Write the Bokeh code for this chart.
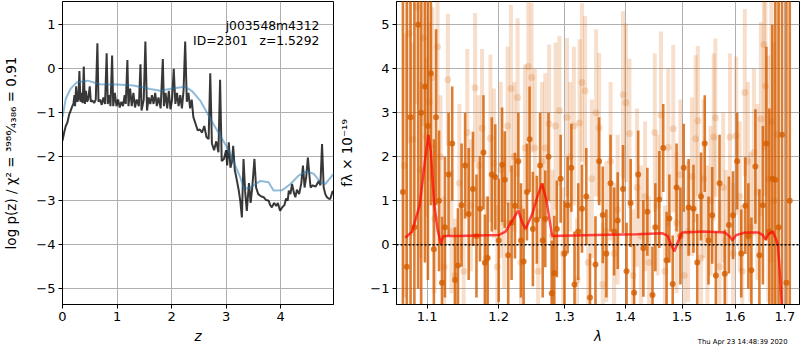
import numpy as np
from bokeh.plotting import figure
from bokeh.layouts import row
from bokeh.models import (Range1d, FixedTicker, CustomJSTickFormatter, Span, Title,
                          ColumnDataSource)
from bokeh.core.properties import value
from bokeh.embed import file_html
from bokeh.resources import INLINE

# ---------------- data: left panel (redshift PDF) ----------------
z_pz = [0.00, 0.03, 0.06, 0.09, 0.12, 0.15, 0.18, 0.20, 0.22, 0.23, 0.25, 0.27, 0.29, 0.31, 0.33,
        0.35, 0.37, 0.39, 0.41, 0.43, 0.45, 0.47, 0.50, 0.52, 0.55, 0.58, 0.61, 0.64, 0.66, 0.69,
        0.72, 0.75, 0.78, 0.81, 0.83, 0.86, 0.88, 0.91, 0.93, 0.96, 0.99, 1.02, 1.05, 1.08, 1.11,
        1.14, 1.16, 1.19, 1.21, 1.24, 1.27, 1.30, 1.33, 1.36, 1.40, 1.43, 1.45, 1.49, 1.52, 1.55,
        1.58, 1.61, 1.64, 1.67, 1.70, 1.73, 1.76, 1.80, 1.84, 1.86, 1.89, 1.92, 1.95, 1.98, 2.01,
        2.04, 2.07, 2.10, 2.13, 2.16, 2.19, 2.22, 2.25, 2.28, 2.31, 2.34, 2.37, 2.40, 2.44, 2.48,
        2.52, 2.56, 2.60, 2.64, 2.68, 2.71, 2.74, 2.78, 2.82, 2.86, 2.89, 2.92, 2.96, 3.00, 3.02,
        3.05, 3.08, 3.11, 3.13, 3.16, 3.20, 3.23, 3.26, 3.29, 3.32, 3.35, 3.38, 3.42, 3.45, 3.48,
        3.52, 3.55, 3.59, 3.64, 3.69, 3.73, 3.78, 3.81, 3.84, 3.88, 3.92, 3.95, 3.99, 4.03, 4.07,
        4.10, 4.13, 4.15, 4.18, 4.21, 4.24, 4.27, 4.30, 4.34, 4.38, 4.41, 4.44, 4.47, 4.50, 4.53,
        4.55, 4.59, 4.64, 4.70, 4.73, 4.76, 4.79, 4.82, 4.85, 4.88, 4.91, 4.95, 4.99]
logp = [-1.64, -1.45, -1.30, -1.22, -1.05, -0.95, -0.85, -0.80, -0.60, -0.85, -0.40, -0.75, -0.70, -0.05, -0.75,
        -0.55, -0.78, 0.05, -0.80, -0.50, -0.75, -0.70, -0.40, -0.75, -0.72, -0.78, -0.70, 0.58, -0.75, -0.70,
        -0.82, -0.65, -0.80, 0.35, -0.80, -0.60, -0.85, 0.30, -0.85, -0.55, -0.85, -0.70, -0.88, -0.75, -0.85,
        -0.60, -0.80, 0.20, -0.85, -0.45, -0.85, -0.55, -0.88, -0.70, -0.85, 0.10, -0.95, -0.70, 0.62, -0.95,
        -0.65, -0.80, -0.60, -0.80, -0.55, -0.85, -0.65, -0.90, 0.22, -0.85, -0.55, -0.90, -0.50, -0.92, -0.70,
        0.00, -0.80, -0.55, -0.85, -0.60, -0.90, -0.50, 0.62, -0.75, -0.55, -0.90, -0.70, -1.10, -1.25, -1.40,
        -1.38, -1.45, -1.30, -1.55, -1.60, -0.10, -1.70, -1.85, -1.65, -1.90, -0.25, -2.10, -2.05, -1.85, -2.20,
        -1.67, -2.25, -2.10, -1.75, -2.30, -2.55, -2.75, -3.00, -3.38, -2.05, -2.80, -3.23, -2.60, -3.05, -2.70,
        -2.05, -2.70, -2.85, -2.90, -2.92, -2.98, -3.00, -3.10, -3.15, -3.05, -3.12, -3.05, -3.23, -3.15, -3.10,
        -2.95, -3.00, -2.77, -2.85, -2.62, -2.80, -2.92, -2.75, -2.85, -2.60, -2.20, -2.70, -2.45, -2.02, -2.45,
        -2.70, -2.65, -2.68, -2.55, -2.65, -1.71, -2.70, -2.85, -2.92, -2.95, -2.96, -2.80, -2.77]

z_smooth = [0.00, 0.06, 0.15, 0.26, 0.46, 0.69, 1.00, 1.30, 1.61, 1.79, 2.04, 2.25, 2.37, 2.53, 2.77,
            3.02, 3.08, 3.26, 3.33, 3.45, 3.63, 3.78, 3.87, 4.03, 4.18, 4.33, 4.48, 4.61, 4.73, 4.82, 4.99]
logp_smooth = [-1.10, -0.68, -0.45, -0.31, -0.27, -0.35, -0.36, -0.38, -0.46, -0.50, -0.44, -0.41, -0.50,
               -0.73, -1.26, -1.79, -1.94, -2.47, -2.73, -2.70, -2.55, -2.58, -2.77, -2.76, -2.62, -2.43,
               -2.33, -2.39, -2.58, -2.62, -2.36]

obj_name = "j003548m4312"
obj_info = "ID=2301\u00a0\u00a0\u00a0z=1.5292"
timestamp = "Thu Apr 23 14:48:39 2020"

# ---------------- data: right panel (1D spectrum) ----------------
lam_d = [1.068, 1.073, 1.078, 1.083, 1.088, 1.092, 1.097, 1.101, 1.105, 1.109, 1.112, 1.116, 1.120, 1.124,
         1.129, 1.134, 1.138, 1.142, 1.147, 1.152, 1.157, 1.163, 1.168, 1.173, 1.178, 1.180, 1.184, 1.190,
         1.195, 1.200, 1.205, 1.209, 1.214, 1.219, 1.224, 1.229, 1.233, 1.237, 1.242, 1.246, 1.251, 1.257,
         1.262, 1.266, 1.270, 1.275, 1.280, 1.284, 1.288, 1.294, 1.300, 1.305, 1.311, 1.316, 1.322, 1.328,
         1.335, 1.341, 1.350, 1.356, 1.362, 1.368, 1.375, 1.381, 1.387, 1.396, 1.402, 1.409, 1.415, 1.422,
         1.431, 1.438, 1.447, 1.452, 1.459, 1.466, 1.472, 1.477, 1.483, 1.490, 1.497, 1.503, 1.512, 1.521,
         1.528, 1.535, 1.542, 1.549, 1.556, 1.563, 1.570, 1.580, 1.588, 1.596, 1.604, 1.612, 1.620, 1.626,
         1.632, 1.640, 1.648, 1.655, 1.662, 1.668, 1.674, 1.680, 1.687, 1.694, 1.703, 1.710]
flux_d = [1.2, -0.5, 2.9, 0.4, 5.0, 3.0, 3.6, 2.7, 3.9, -0.1, 2.9, 1.0, -0.86, 0.4,
          1.6, 2.3, -0.8, -0.47, 0.9, 1.8, 0.7, 1.27, 0.2, 0.82, 2.1, -0.41, -0.3, 1.6,
          1.54, 0.1, 1.82, 1.48, -0.24, 0.5, 0.89, 1.9, 0.1, -0.38, 1.2, 2.4, 0.36, 0.57,
          1.8, 0.1, 0.59, 2.0, -1.1, -0.64, 0.36, 1.5, -0.2, 0.9, 1.75, -0.9, 0.3, 0.82,
          1.1, -1.2, -0.45, 1.9, 0.68, -0.2, 1.4, 0.3, 0.55, 1.27, -0.6, 0.95, -1.09, 1.6,
          -0.08, 0.75, -1.14, 0.4, 1.03, 2.2, -0.35, 0.6, -0.89, 1.3, 0.2, 1.75, 0.85, 0.82,
          -0.4, 1.1, 2.3, 0.1, 0.67, -0.7, 1.4, -0.66, 0.45, 0.67, 1.9, -0.2, 0.89, 0.2,
          -0.58, 1.78, -0.24, 0.9, 2.3, 0.3, 1.5, 1.48, 0.4, 2.5, -0.86, 1.0]
err_d = [8.0, 8.0, 7.0, 6.0, 6.0, 5.0, 4.0, 3.5, 3.0, 2.5, 2.0, 1.6, 1.5, 1.6,
         1.4, 1.3, 1.2, 1.3, 1.4, 1.2, 1.5, 1.3, 1.4, 1.2, 1.3, 1.1, 1.4, 1.3,
         1.2, 1.4, 1.3, 1.1, 1.2, 1.3, 1.2, 1.1, 1.3, 1.2, 1.1, 1.2, 1.3, 1.0,
         1.2, 1.3, 1.1, 1.0, 1.2, 1.3, 1.1, 1.0, 1.2, 1.1, 1.0, 1.2, 1.1, 1.0,
         1.1, 1.0, 1.1, 1.0, 1.1, 1.0, 1.1, 1.0, 1.1, 1.0, 1.1, 1.0, 1.1, 1.0,
         1.1, 1.0, 1.1, 1.0, 1.1, 1.0, 1.1, 1.0, 1.1, 1.0, 1.1, 1.0, 1.1, 1.0,
         1.1, 1.0, 1.1, 1.0, 1.1, 1.0, 1.1, 1.0, 1.1, 1.0, 1.1, 1.0, 1.1, 1.2,
         1.2, 1.3, 1.5, 1.8, 2.2, 2.8, 3.5, 4.5, 6.0, 7.0, 8.0, 9.0]

lam_l = [1.070, 1.076, 1.081, 1.086, 1.091, 1.095, 1.099, 1.103, 1.107, 1.110, 1.114, 1.118, 1.123, 1.128,
         1.133, 1.138, 1.144, 1.150, 1.155, 1.160, 1.166, 1.171, 1.176, 1.182, 1.188, 1.193, 1.198, 1.203,
         1.208, 1.213, 1.218, 1.223, 1.228, 1.233, 1.239, 1.244, 1.249, 1.254, 1.259, 1.265, 1.270, 1.276,
         1.281, 1.286, 1.292, 1.298, 1.304, 1.309, 1.315, 1.320, 1.324, 1.328, 1.333, 1.338, 1.344, 1.351,
         1.356, 1.362, 1.368, 1.375, 1.381, 1.387, 1.396, 1.401, 1.407, 1.413, 1.420, 1.427, 1.434, 1.441,
         1.451, 1.456, 1.462, 1.469, 1.475, 1.484, 1.490, 1.497, 1.504, 1.511, 1.518, 1.525, 1.529, 1.535,
         1.540, 1.547, 1.553, 1.559, 1.562, 1.570, 1.577, 1.582, 1.590, 1.596, 1.602, 1.609, 1.614, 1.619,
         1.625, 1.630, 1.637, 1.644, 1.651, 1.657, 1.660, 1.666, 1.672, 1.678, 1.684]
flux_l = [1.8, 4.8, 2.4, 5.4, 1.7, 4.7, 2.45, 3.25, 3.8, 0.6, 4.5, 2.0, -0.5, 3.75,
          0.3, -0.7, 1.4, -0.6, 2.55, 0.9, 3.57, 1.8, 2.65, -0.3, 2.42, 1.85, -0.5, 1.7,
          0.5, 2.7, 3.55, 2.0, 3.35, -0.4, 2.2, 4.05, 3.8, 2.2, -0.6, 1.9, 2.2, 2.75,
          0.2, 2.7, 3.05, -0.2, 2.9, 2.0, 2.7, -0.8, 2.77, 3.69, 3.5, -0.4, 1.5, 3.0,
          2.66, -0.9, 0.3, 1.9, -0.2, 0.8, 3.41, 3.23, 2.53, -0.7, 1.3, 0.2, 1.1, -0.4,
          2.55, 0.9, 2.95, -0.6, 2.22, 2.64, 0.5, 1.6, -0.7, 0.3, 1.55, 2.41, 2.82, -0.3,
          1.5, 0.2, 1.0, 2.45, 2.89, -0.5, 1.3, 0.1, 2.45, -0.2, 2.48, 1.1, -0.6, 3.46,
          1.9, 0.4, 2.1, 1.2, 2.86, 4.55, 3.61, 1.5, 2.8, 1.0, 2.5]
err_l = [3.0, 2.5, 2.2, 2.2, 2.0, 2.0, 1.8, 1.8, 1.6, 1.7, 1.5, 1.4, 1.6, 1.5,
         1.4, 1.3, 1.8, 1.4, 1.9, 1.5, 1.7, 1.6, 1.8, 1.4, 1.9, 1.7, 1.4, 2.0,
         1.5, 1.8, 1.9, 1.7, 1.8, 1.3, 1.9, 1.6, 1.7, 1.8, 1.4, 1.8, 1.7, 1.8,
         1.5, 1.9, 1.7, 1.5, 1.8, 1.7, 1.8, 1.4, 1.9, 1.8, 1.7, 1.5, 1.8, 1.9,
         1.7, 1.4, 1.6, 1.8, 1.6, 1.7, 1.9, 1.8, 1.7, 1.5, 1.8, 1.6, 1.7, 1.5,
         1.8, 1.6, 1.9, 1.5, 1.8, 1.9, 1.6, 1.7, 1.5, 1.6, 1.8, 1.9, 1.7, 1.5,
         1.8, 1.6, 1.7, 1.9, 1.8, 1.5, 1.7, 1.6, 1.9, 1.6, 1.8, 1.7, 1.5, 1.9,
         1.8, 1.7, 1.9, 2.0, 2.2, 2.4, 2.5, 2.8, 3.2, 3.6, 4.0]

lam_model = [1.071, 1.080, 1.090, 1.097, 1.1017, 1.105, 1.109, 1.114, 1.1186, 1.122, 1.140, 1.200,
             1.210, 1.220, 1.229, 1.235, 1.240, 1.250, 1.258, 1.265, 1.272, 1.2806, 1.350, 1.420,
             1.465, 1.474, 1.480, 1.486, 1.492, 1.500, 1.540, 1.580, 1.590, 1.595, 1.602, 1.620,
             1.645, 1.655, 1.660, 1.667, 1.675, 1.681, 1.6855, 1.690, 1.6935]
flux_model = [0.16, 0.30, 0.90, 1.90, 2.50, 2.10, 1.00, 0.35, 0.02, 0.20, 0.20, 0.22,
              0.30, 0.55, 0.78, 0.50, 0.36, 0.70, 1.10, 1.39, 1.00, 0.20, 0.22, 0.24,
              0.26, 0.20, 0.00, -0.15, 0.05, 0.28, 0.30, 0.28, 0.18, 0.10, 0.22, 0.28,
              0.28, 0.22, 0.12, 0.25, 0.30, 0.15, 0.00, -0.70, -1.40]

left_xticks = [0, 1, 2, 3, 4]
left_yticks = [-5, -4, -3, -2, -1, 0, 1]
right_xticks = [1.1, 1.2, 1.3, 1.4, 1.5, 1.6, 1.7]
right_yticks = [-1, 0, 1, 2, 3, 4, 5]

FONT = "DejaVu Sans"
TICK_FS = "13px"
LABEL_FS = "13.5px"
ORANGE = "#d55e00"

minus_fmt = CustomJSTickFormatter(code="""
    const s = Math.abs(tick).toFixed(0);
    return tick < 0 ? "\\u2212" + s : s;
""")
one_dec_fmt = CustomJSTickFormatter(code="return tick.toFixed(1);")


def style(p):
    p.outline_line_color = "black"
    p.outline_line_width = 1
    p.background_fill_color = "white"
    p.border_fill_color = "white"
    for g in (p.xgrid, p.ygrid):
        g.grid_line_color = "#b0b0b0"
        g.grid_line_width = 1
    for ax in (p.xaxis, p.yaxis):
        ax.major_label_text_font = FONT
        ax.major_label_text_font_size = TICK_FS
        ax.major_label_text_color = "black"
        ax.axis_label_text_font = FONT
        ax.axis_label_text_font_size = LABEL_FS
        ax.axis_label_text_color = "black"
        ax.major_tick_in = 0
        ax.major_tick_out = 4
        ax.major_tick_line_color = "black"
        ax.minor_tick_line_color = None
        ax.axis_line_color = "black"
        ax.major_label_standoff = 3
    p.xaxis.axis_label_text_font_style = "italic"
    p.yaxis.axis_label_text_font_style = "normal"
    p.xaxis.axis_label_standoff = 4


# ---------------- left figure ----------------
p1 = figure(width=336, height=350, x_range=Range1d(0, 4.97), y_range=Range1d(-5.36, 1.53),
            output_backend="svg", toolbar_location=None,
            min_border_left=62, min_border_right=3, min_border_top=1, min_border_bottom=46)
style(p1)
p1.xaxis.ticker = FixedTicker(ticks=left_xticks)
p1.yaxis.ticker = FixedTicker(ticks=left_yticks)
p1.yaxis.formatter = minus_fmt
p1.xaxis.axis_label = "z"
p1.yaxis.axis_label = "log p(z) / \u03c7\u00b2 = \u00b3\u2079\u2078\u2076\u2044\u2084\u2083\u2088\u2086 = 0.91"
p1.yaxis.axis_label_standoff = 14

p1.line(z_pz, logp, line_color="black", line_alpha=0.78, line_width=2)
p1.line(z_smooth, logp_smooth, line_color="#1f77b4", line_alpha=0.5, line_width=2)

p1.text(x=[4.71, 4.71], y=[0.98, 0.64], text=[obj_name, obj_info], text_align="right",
        text_baseline="alphabetic", text_font=value(FONT), text_font_size="12.3px",
        text_color="black")

# ---------------- right figure ----------------
p2 = figure(width=464, height=350, x_axis_type="log",
            x_range=Range1d(1.0597, 1.7304), y_range=Range1d(-1.357, 5.53),
            output_backend="svg", toolbar_location=None,
            min_border_left=56, min_border_right=1, min_border_top=1, min_border_bottom=46)
style(p2)
p2.xaxis.ticker = FixedTicker(ticks=right_xticks)
p2.xaxis.formatter = one_dec_fmt
p2.yaxis.ticker = FixedTicker(ticks=right_yticks)
p2.yaxis.formatter = minus_fmt
p2.xaxis.axis_label = "\u03bb"
p2.yaxis.axis_label = "f\u03bb \u00d7 10\u207b\u00b9\u2079"
p2.yaxis.axis_label_standoff = 12

fl = np.array(flux_l); el = np.array(err_l)
src_l = ColumnDataSource(dict(x=lam_l, y=flux_l, lo=fl - el, hi=fl + el))
fd = np.array(flux_d); ed = np.array(err_d)
src_d = ColumnDataSource(dict(x=lam_d, y=flux_d, lo=fd - ed, hi=fd + ed))

p2.segment(x0="x", y0="lo", x1="x", y1="hi", source=src_l, line_color=ORANGE,
           line_alpha=0.2, line_width=4)
p2.scatter(x="x", y="y", source=src_l, size=7, fill_color=ORANGE, line_color=None,
           fill_alpha=0.2)
p2.segment(x0="x", y0="lo", x1="x", y1="hi", source=src_d, line_color=ORANGE,
           line_alpha=0.8, line_width=2.6)
p2.scatter(x="x", y="y", source=src_d, size=6, fill_color=ORANGE, line_color=None,
           fill_alpha=0.8)

p2.add_layout(Span(location=0, dimension="width", line_color="black", line_width=1.6,
                   line_dash="2 2"))
p2.line(lam_model, flux_model, line_color="red", line_alpha=0.7, line_width=2.5)

p2.add_layout(Title(text=timestamp, align="right", vertical_align="top",
                    text_font=FONT, text_font_size="6.8px", text_font_style="normal",
                    text_color="black", standoff=-18, offset=12), "below")

layout = row(p1, p2)
open("out.html", "w").write(file_html(layout, INLINE))
